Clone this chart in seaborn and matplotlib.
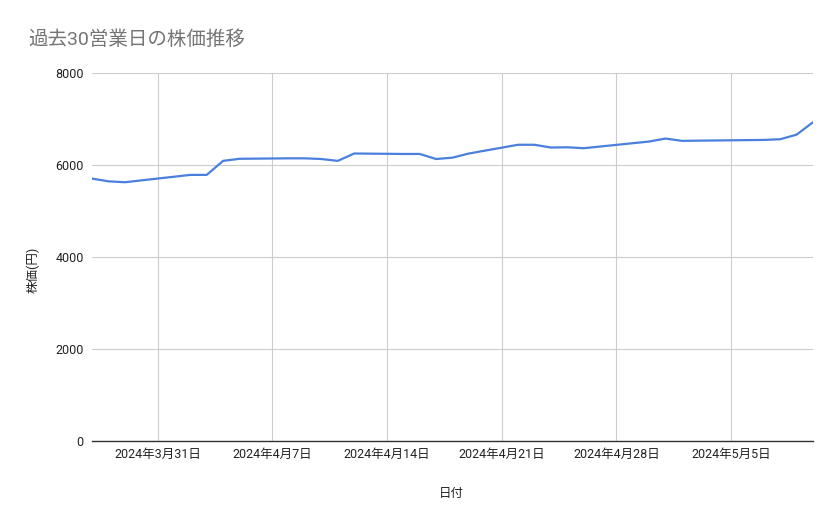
import matplotlib
matplotlib.use("Agg")
import matplotlib.pyplot as plt
import matplotlib.dates as mdates
from matplotlib.ticker import FuncFormatter, MultipleLocator
import pandas as pd
import seaborn as sns

# 過去30営業日 (土日・祝日を除く)
dates = [
    "2024-03-27", "2024-03-28", "2024-03-29",
    "2024-04-01", "2024-04-02", "2024-04-03", "2024-04-04", "2024-04-05",
    "2024-04-08", "2024-04-09", "2024-04-10", "2024-04-11", "2024-04-12",
    "2024-04-15", "2024-04-16", "2024-04-17", "2024-04-18", "2024-04-19",
    "2024-04-22", "2024-04-23", "2024-04-24", "2024-04-25", "2024-04-26",
    "2024-04-30", "2024-05-01", "2024-05-02",
    "2024-05-07", "2024-05-08", "2024-05-09", "2024-05-10",
]
prices = [
    5705, 5645, 5625,
    5745, 5785, 5785, 6090, 6135,
    6145, 6145, 6130, 6090, 6250,
    6240, 6240, 6130, 6160, 6250,
    6440, 6440, 6380, 6385, 6365,
    6510, 6575, 6525,
    6545, 6560, 6660, 6930,
]

title = "過去30営業日の株価推移"
x_label = "日付"
y_label = "株価(円)"

df = pd.DataFrame({"date": pd.to_datetime(dates), "price": prices})

sns.set_theme(style="white")
plt.rcParams["font.family"] = ["Roboto", "Noto Sans CJK JP", "DejaVu Sans"]

fig = plt.figure(figsize=(8.39, 5.19), dpi=100)
ax = fig.add_axes([92 / 839, 1 - 441 / 519, (813 - 92) / 839, (441 - 73) / 519])

sns.lineplot(data=df, x="date", y="price", ax=ax, color="#4a80dc", linewidth=1.6)

ax.set_xlim(pd.Timestamp("2024-03-27"), pd.Timestamp("2024-05-10"))
ax.set_ylim(0, 8000)
ax.yaxis.set_major_locator(MultipleLocator(2000))
ax.xaxis.set_major_locator(mdates.WeekdayLocator(byweekday=mdates.SU))
ax.xaxis.set_major_formatter(
    FuncFormatter(lambda v, p: "{0}年{1}月{2}日".format(
        mdates.num2date(v).year, mdates.num2date(v).month, mdates.num2date(v).day))
)

ax.grid(True, color="#cccccc", linewidth=0.8)
ax.set_axisbelow(True)
for s in ["top", "right", "left"]:
    ax.spines[s].set_visible(False)
ax.spines["bottom"].set_color("#333333")
ax.spines["bottom"].set_linewidth(1.0)
ax.tick_params(axis="both", length=0, labelsize=9, colors="#222222", pad=6)
ax.tick_params(axis="x", pad=5)

ax.set_xlabel(x_label, fontsize=9, color="#222222")
ax.set_ylabel(y_label, fontsize=9, color="#222222")
ax.xaxis.set_label_coords(0.499, -0.125)
ax.yaxis.set_label_coords(-0.072, 0.465)

fig.text(28 / 839, 1 - 40 / 519, title, fontsize=14, color="#757575", va="center", ha="left")

fig.savefig("out.png", dpi=100)
